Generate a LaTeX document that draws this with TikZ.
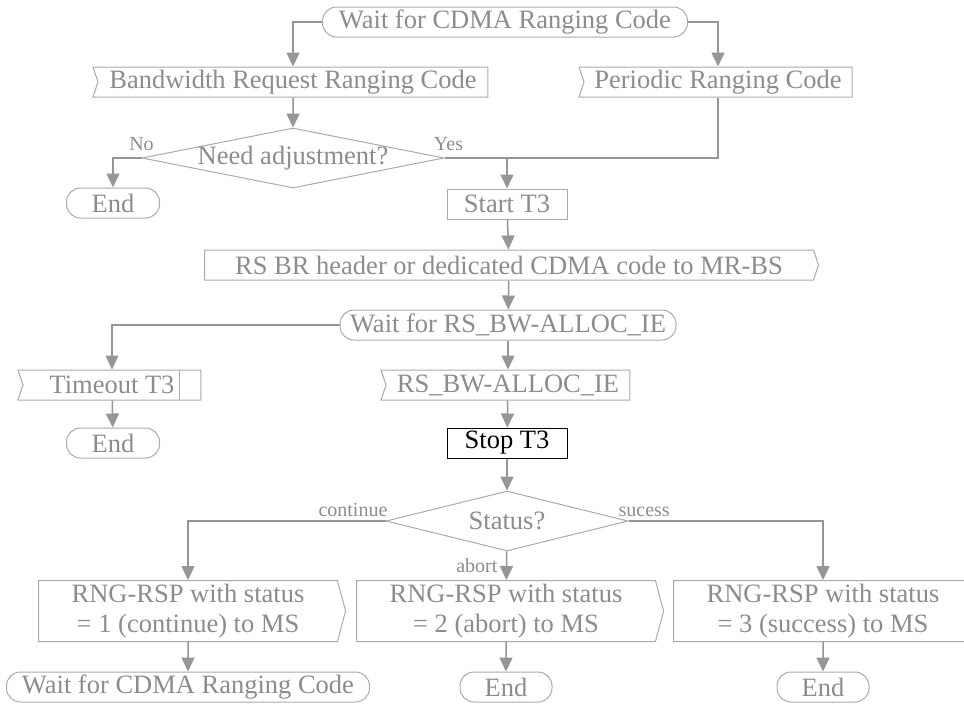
\documentclass[tikz,border=0pt]{standalone}
\usepackage{fontspec}
\setmainfont{Liberation Serif}
\usetikzlibrary{shapes.geometric,shapes.symbols,arrows.meta}

\definecolor{txtgray}{RGB}{140,140,140}
\definecolor{linegray}{RGB}{150,150,150}
\definecolor{boxgray}{RGB}{170,170,170}

\tikzstyle{state} = [rectangle, rounded corners=14pt, minimum height=30pt, inner sep=2pt, draw=boxgray, line width=1pt, text=txtgray]
\tikzstyle{task} = [rectangle, minimum height=30pt, inner sep=2pt, draw=boxgray, line width=1pt, text=txtgray]
\tikzstyle{receive} = [signal, signal to=nowhere, signal from=west, signal pointer angle=143, minimum height=30pt, inner sep=2pt, draw=boxgray, line width=1pt, text=txtgray]
\tikzstyle{send} = [signal, signal to=east, signal pointer angle=143, minimum height=30pt, inner sep=2pt, draw=boxgray, line width=1pt, text=txtgray]
\tikzstyle{sendtwo} = [send, signal pointer angle=150, minimum width=307pt, minimum height=61pt, align=center]
\tikzstyle{decision} = [diamond, aspect=5, inner sep=0pt, inner xsep=-8pt, draw=boxgray, line width=1pt, text=txtgray]
\tikzstyle{flow} = [line width=1.5pt, draw=linegray, -{Triangle[width=13pt,length=14pt]}]
\tikzstyle{merge} = [line width=1.5pt, draw=linegray]
\tikzstyle{branch} = [font=\fontsize{20}{24}\selectfont, text=txtgray]

\begin{document}
\begin{tikzpicture}[x=1pt, y=-1pt, font=\fontsize{26.5}{30}\selectfont]
  \useasboundingbox (0,0) rectangle (964,705);

  \node (waitcode) [state, minimum width=365pt] at (505,22) {Wait for CDMA Ranging Code};
  \node (bwreq) [receive, minimum width=395pt] at (293,82) {Bandwidth Request Ranging Code};
  \node (periodic) [receive, minimum width=273pt] at (718,82) {Periodic Ranging Code};
  \node (needadj) [decision, minimum width=302pt, minimum height=60pt] at (293,158) {Need adjustment?};
  \node (endno) [state, minimum width=93pt] at (113,203) {End};
  \node (startT) [task, minimum width=120pt] at (507,204) {Start T3};
  \node (rsbr) [send, minimum width=614pt] at (509,265) {RS BR header or dedicated CDMA code to MR-BS};
  \node (waitalloc) [state, minimum width=336pt] at (508,325) {Wait for RS\_BW-ALLOC\_IE};
  \node (timeout) [receive, minimum width=183pt] at (112,385) {Timeout T3};
  \node (bwalloc) [receive, minimum width=249pt] at (508,385) {RS\_BW-ALLOC\_IE};
  \node (endtime) [state, minimum width=93pt] at (113,443) {End};
  \node (stopT) [task, draw=black, text=black, minimum width=120pt] at (507,443) {Stop T3};
  \node (status) [decision, minimum width=242pt, minimum height=60pt] at (507,521) {Status?};
  \node (rspcont) [sendtwo] at (188,611) {RNG-RSP with status\\= 1 (continue) to MS};
  \node (rspabort) [sendtwo] at (506,611) {RNG-RSP with status\\= 2 (abort) to MS};
  \node (rspsucc) [sendtwo] at (823,611) {RNG-RSP with status\\= 3 (success) to MS};
  \node (waitcode2) [state, minimum width=363pt] at (188,687) {Wait for CDMA Ranging Code};
  \node (endabort) [state, minimum width=92pt] at (506,687) {End};
  \node (endsucc) [state, minimum width=92pt] at (823,687) {End};

  % timer mark of the timeout input
  \draw [boxgray, line width=1pt] ([xshift=-22pt]timeout.north east) -- ([xshift=-22pt]timeout.south east);

  \coordinate (yesjoin) at (startT.north |- needadj.east);

  \draw [flow] (waitcode.west) -| (bwreq.north);
  \draw [flow] (waitcode.east) -| (periodic.north);
  \draw [flow] (bwreq) -- (needadj);
  \draw [flow] (needadj.west) -| (endno.north) node [branch, at start, above, yshift=3pt] {No};
  \draw [flow] (needadj.east) -| (startT.north) node [branch, at start, above, xshift=4pt, yshift=3pt] {Yes};
  \draw [merge] (periodic.south) |- (yesjoin);
  \draw [flow] (startT) -- (rsbr);
  \draw [flow] (rsbr) -- (waitalloc);
  \draw [flow] (waitalloc.west) -| (timeout.north);
  \draw [flow] (waitalloc) -- (bwalloc);
  \draw [flow] (timeout) -- (endtime);
  \draw [flow] (bwalloc) -- (stopT);
  \draw [flow] (stopT) -- (status);
  \draw [flow] (status.west) -| (rspcont.north) node [branch, at start, above left, xshift=6pt] {continue};
  \draw [flow] (status) -- (rspabort) node [branch, midway, left, xshift=-5pt] {abort};
  \draw [flow] (status.east) -| (rspsucc.north) node [branch, at start, above right, xshift=-14pt] {sucess};
  \draw [flow] (rspcont) -- (waitcode2);
  \draw [flow] (rspabort) -- (endabort);
  \draw [flow] (rspsucc) -- (endsucc);
\end{tikzpicture}
\end{document}
